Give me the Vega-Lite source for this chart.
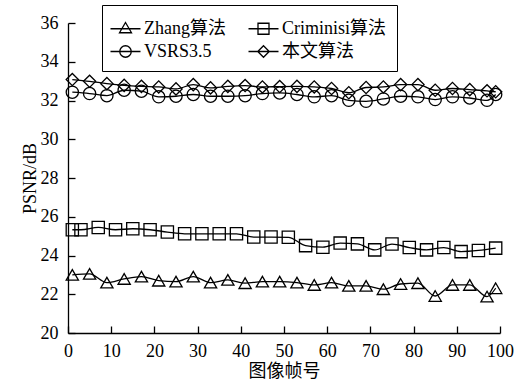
{
  "$schema": "https://vega.github.io/schema/vega-lite/v6.json",
  "width": 432,
  "height": 310,
  "autosize": "none",
  "padding": {"left": 68, "top": 23, "right": 21, "bottom": 56},
  "background": "white",
  "config": {
    "view": {"stroke": null},
    "font": "Liberation Serif",
    "axis": {
      "domainColor": "black", "domainWidth": 1.3,
      "tickColor": "black", "tickWidth": 1.3, "tickSize": -7,
      "grid": false,
      "labelFont": "Liberation Serif", "labelFontSize": 18, "labelColor": "black",
      "titleFont": "Liberation Serif, Noto Sans CJK SC", "titleFontSize": 18, "titleFontWeight": "normal", "titleColor": "black"
    }
  },
  "data": {"values": [
    {"series": "Zhang算法", "frame": 1, "psnr": 23.0},
    {"series": "Zhang算法", "frame": 5, "psnr": 23.05},
    {"series": "Zhang算法", "frame": 9, "psnr": 22.6},
    {"series": "Zhang算法", "frame": 13, "psnr": 22.79},
    {"series": "Zhang算法", "frame": 17, "psnr": 22.91},
    {"series": "Zhang算法", "frame": 21, "psnr": 22.7},
    {"series": "Zhang算法", "frame": 25, "psnr": 22.65},
    {"series": "Zhang算法", "frame": 29, "psnr": 22.91},
    {"series": "Zhang算法", "frame": 33, "psnr": 22.6},
    {"series": "Zhang算法", "frame": 37, "psnr": 22.74},
    {"series": "Zhang算法", "frame": 41, "psnr": 22.57},
    {"series": "Zhang算法", "frame": 45, "psnr": 22.65},
    {"series": "Zhang算法", "frame": 49, "psnr": 22.65},
    {"series": "Zhang算法", "frame": 53, "psnr": 22.6},
    {"series": "Zhang算法", "frame": 57, "psnr": 22.48},
    {"series": "Zhang算法", "frame": 61, "psnr": 22.6},
    {"series": "Zhang算法", "frame": 65, "psnr": 22.43},
    {"series": "Zhang算法", "frame": 69, "psnr": 22.43},
    {"series": "Zhang算法", "frame": 73, "psnr": 22.26},
    {"series": "Zhang算法", "frame": 77, "psnr": 22.53},
    {"series": "Zhang算法", "frame": 81, "psnr": 22.57},
    {"series": "Zhang算法", "frame": 85, "psnr": 21.91},
    {"series": "Zhang算法", "frame": 89, "psnr": 22.48},
    {"series": "Zhang算法", "frame": 93, "psnr": 22.48},
    {"series": "Zhang算法", "frame": 97, "psnr": 21.88},
    {"series": "Zhang算法", "frame": 99, "psnr": 22.31},
    {"series": "Criminisi算法", "frame": 1, "psnr": 25.33},
    {"series": "Criminisi算法", "frame": 3, "psnr": 25.33},
    {"series": "Criminisi算法", "frame": 7, "psnr": 25.45},
    {"series": "Criminisi算法", "frame": 11, "psnr": 25.33},
    {"series": "Criminisi算法", "frame": 15, "psnr": 25.38},
    {"series": "Criminisi算法", "frame": 19, "psnr": 25.33},
    {"series": "Criminisi算法", "frame": 23, "psnr": 25.21},
    {"series": "Criminisi算法", "frame": 27, "psnr": 25.12},
    {"series": "Criminisi算法", "frame": 31, "psnr": 25.12},
    {"series": "Criminisi算法", "frame": 35, "psnr": 25.12},
    {"series": "Criminisi算法", "frame": 39, "psnr": 25.12},
    {"series": "Criminisi算法", "frame": 43, "psnr": 24.95},
    {"series": "Criminisi算法", "frame": 47, "psnr": 24.95},
    {"series": "Criminisi算法", "frame": 51, "psnr": 24.94},
    {"series": "Criminisi算法", "frame": 55, "psnr": 24.51},
    {"series": "Criminisi算法", "frame": 59, "psnr": 24.43},
    {"series": "Criminisi算法", "frame": 63, "psnr": 24.64},
    {"series": "Criminisi算法", "frame": 67, "psnr": 24.6},
    {"series": "Criminisi算法", "frame": 71, "psnr": 24.29},
    {"series": "Criminisi算法", "frame": 75, "psnr": 24.59},
    {"series": "Criminisi算法", "frame": 79, "psnr": 24.41},
    {"series": "Criminisi算法", "frame": 83, "psnr": 24.29},
    {"series": "Criminisi算法", "frame": 87, "psnr": 24.41},
    {"series": "Criminisi算法", "frame": 91, "psnr": 24.2},
    {"series": "Criminisi算法", "frame": 95, "psnr": 24.26},
    {"series": "Criminisi算法", "frame": 99, "psnr": 24.38},
    {"series": "VSRS3.5", "frame": 1, "psnr": 32.43},
    {"series": "VSRS3.5", "frame": 5, "psnr": 32.36},
    {"series": "VSRS3.5", "frame": 9, "psnr": 32.25},
    {"series": "VSRS3.5", "frame": 13, "psnr": 32.53},
    {"series": "VSRS3.5", "frame": 17, "psnr": 32.48},
    {"series": "VSRS3.5", "frame": 21, "psnr": 32.19},
    {"series": "VSRS3.5", "frame": 25, "psnr": 32.22},
    {"series": "VSRS3.5", "frame": 29, "psnr": 32.31},
    {"series": "VSRS3.5", "frame": 33, "psnr": 32.22},
    {"series": "VSRS3.5", "frame": 37, "psnr": 32.22},
    {"series": "VSRS3.5", "frame": 41, "psnr": 32.25},
    {"series": "VSRS3.5", "frame": 45, "psnr": 32.36},
    {"series": "VSRS3.5", "frame": 49, "psnr": 32.39},
    {"series": "VSRS3.5", "frame": 53, "psnr": 32.31},
    {"series": "VSRS3.5", "frame": 57, "psnr": 32.19},
    {"series": "VSRS3.5", "frame": 61, "psnr": 32.25},
    {"series": "VSRS3.5", "frame": 65, "psnr": 32.01},
    {"series": "VSRS3.5", "frame": 69, "psnr": 31.96},
    {"series": "VSRS3.5", "frame": 73, "psnr": 32.08},
    {"series": "VSRS3.5", "frame": 77, "psnr": 32.22},
    {"series": "VSRS3.5", "frame": 81, "psnr": 32.19},
    {"series": "VSRS3.5", "frame": 85, "psnr": 32.05},
    {"series": "VSRS3.5", "frame": 89, "psnr": 32.19},
    {"series": "VSRS3.5", "frame": 93, "psnr": 32.13},
    {"series": "VSRS3.5", "frame": 97, "psnr": 32.01},
    {"series": "VSRS3.5", "frame": 99, "psnr": 32.31},
    {"series": "本文算法", "frame": 1, "psnr": 33.08},
    {"series": "本文算法", "frame": 5, "psnr": 32.99},
    {"series": "本文算法", "frame": 9, "psnr": 32.87},
    {"series": "本文算法", "frame": 13, "psnr": 32.78},
    {"series": "本文算法", "frame": 17, "psnr": 32.73},
    {"series": "本文算法", "frame": 21, "psnr": 32.7},
    {"series": "本文算法", "frame": 25, "psnr": 32.6},
    {"series": "本文算法", "frame": 29, "psnr": 32.82},
    {"series": "本文算法", "frame": 33, "psnr": 32.65},
    {"series": "本文算法", "frame": 37, "psnr": 32.73},
    {"series": "本文算法", "frame": 41, "psnr": 32.77},
    {"series": "本文算法", "frame": 45, "psnr": 32.7},
    {"series": "本文算法", "frame": 49, "psnr": 32.72},
    {"series": "本文算法", "frame": 53, "psnr": 32.73},
    {"series": "本文算法", "frame": 57, "psnr": 32.7},
    {"series": "本文算法", "frame": 61, "psnr": 32.62},
    {"series": "本文算法", "frame": 65, "psnr": 32.4},
    {"series": "本文算法", "frame": 69, "psnr": 32.67},
    {"series": "本文算法", "frame": 73, "psnr": 32.7},
    {"series": "本文算法", "frame": 77, "psnr": 32.82},
    {"series": "本文算法", "frame": 81, "psnr": 32.82},
    {"series": "本文算法", "frame": 85, "psnr": 32.53},
    {"series": "本文算法", "frame": 89, "psnr": 32.62},
    {"series": "本文算法", "frame": 93, "psnr": 32.56},
    {"series": "本文算法", "frame": 97, "psnr": 32.5},
    {"series": "本文算法", "frame": 99, "psnr": 32.45}
  ]},
  "encoding": {
    "x": {
      "field": "frame", "type": "quantitative",
      "scale": {"domain": [0, 100], "nice": false},
      "axis": {"values": [0, 10, 20, 30, 40, 50, 60, 70, 80, 90, 100], "labelPadding": 16, "title": "图像帧号", "titlePadding": 2, "labelFlush": false}
    },
    "y": {
      "field": "psnr", "type": "quantitative",
      "scale": {"domain": [20, 36], "nice": false, "zero": false},
      "axis": {"values": [20, 22, 24, 26, 28, 30, 32, 34, 36], "labelPadding": 17, "title": "PSNR/dB", "titlePadding": 1, "labelFlush": false}
    }
  },
  "layer": [
    {
      "mark": {"type": "line", "color": "black", "strokeWidth": 1.3, "interpolate": "monotone"},
      "encoding": {"detail": {"field": "series", "type": "nominal"}}
    },
    {
      "mark": {"type": "point", "filled": false, "stroke": "black", "strokeWidth": 1.3, "opacity": 1, "size": 150},
      "encoding": {
        "shape": {
          "field": "series", "type": "nominal",
          "scale": {"domain": ["Zhang算法", "Criminisi算法", "VSRS3.5", "本文算法"], "range": ["triangle-up", "square", "circle", "diamond"]},
          "legend": null
        }
      }
    },
    {
      "transform": [{"filter": "datum.frame < 0"}],
      "mark": {"type": "point", "filled": false, "stroke": "black", "strokeWidth": 1.3, "opacity": 1, "size": 625},
      "encoding": {
        "shape": {
          "field": "series", "type": "nominal",
          "scale": {"domain": ["Zhang算法", "Criminisi算法", "VSRS3.5", "本文算法"], "range": ["M-1.2,0H1.2M0,-0.5L0.48,0.32L-0.48,0.32Z", "M-1.2,0H1.2M-0.44,-0.44H0.44V0.44H-0.44Z", "M-1.2,0H1.2M0.46,0A0.46,0.46,0,1,1,-0.46,0A0.46,0.46,0,1,1,0.46,0Z", "M-1.2,0H1.2M0,-0.46L0.46,0L0,0.46L-0.46,0Z"]},
          "legend": {
            "title": null,
            "orient": "none", "legendX": 34, "legendY": -18,
            "direction": "horizontal", "columns": 2,
            "padding": 10, "columnPadding": 19, "rowPadding": 0,
            "symbolSize": 625, "symbolStrokeWidth": 1.3, "symbolStrokeColor": "black", "symbolFillColor": "transparent", "symbolOpacity": 1,
            "labelOffset": 5,
            "labelFont": "Liberation Serif, Noto Sans CJK SC", "labelFontSize": 18, "labelColor": "black", "labelLimit": 300,
            "strokeColor": "black", "fillColor": "white",
            "encode": {"legend": {"strokeWidth": {"value": 1.3}}}
          }
        }
      }
    }
  ],
  "resolve": {"scale": {"shape": "independent"}, "legend": {"shape": "independent"}}
}
